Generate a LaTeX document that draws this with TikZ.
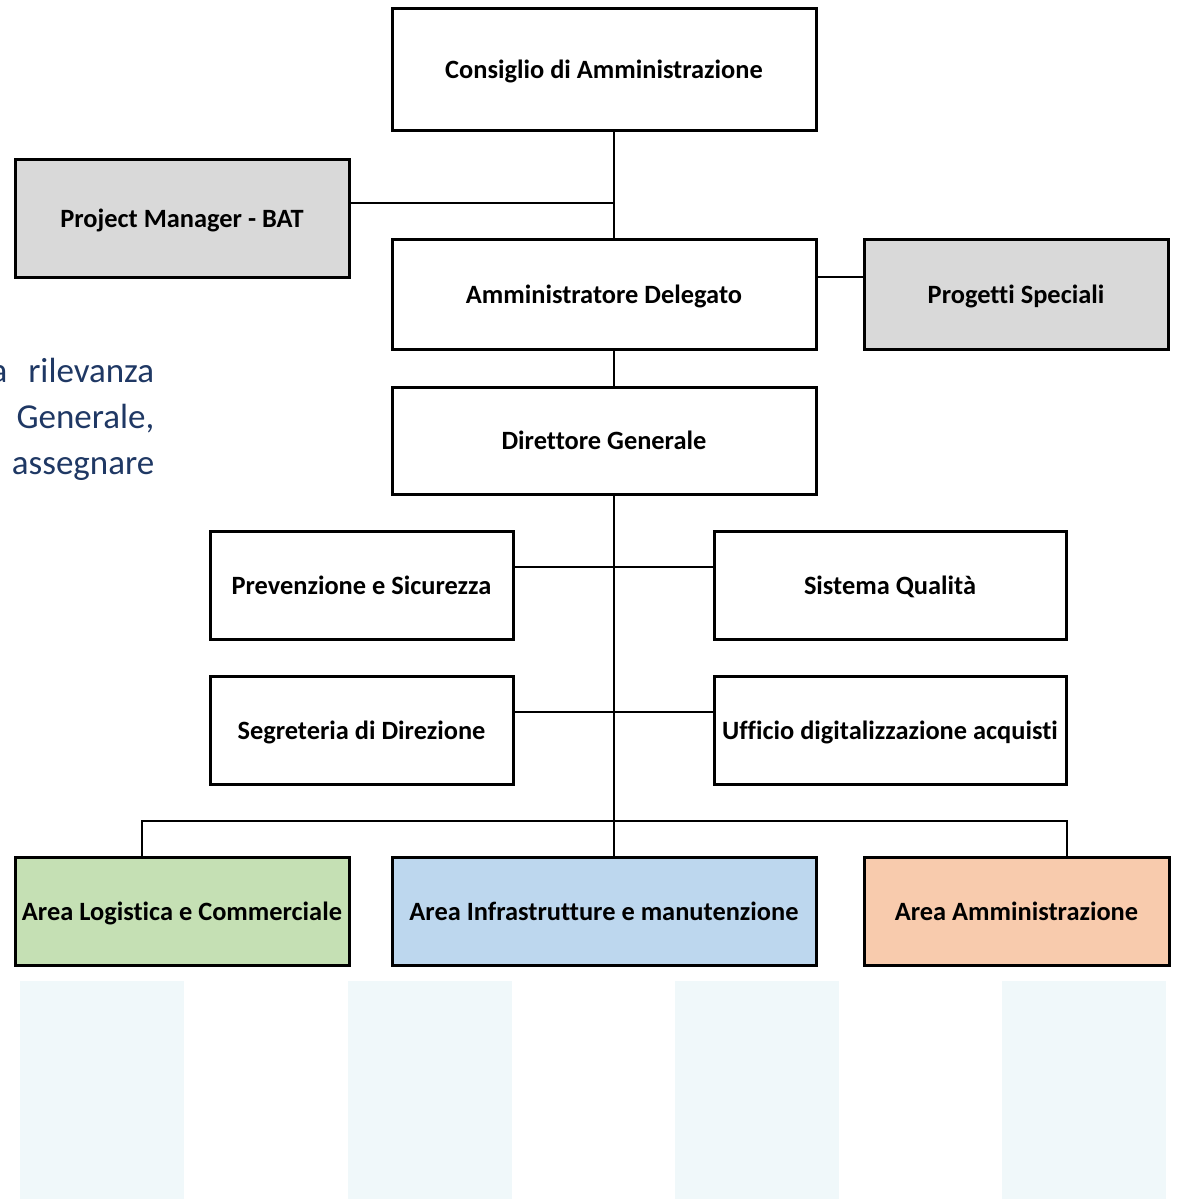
\documentclass[tikz,border=0pt]{standalone}
\usepackage{fontspec}
\setmainfont{Carlito}[Ligatures=NoCommon]
\usetikzlibrary{positioning}
\definecolor{grigio}{HTML}{D9D9D9}
\definecolor{verde}{HTML}{C5E0B4}
\definecolor{azzurro}{HTML}{BDD7EE}
\definecolor{arancio}{HTML}{F8CBAD}
\definecolor{velo}{HTML}{F0F8FA}
\definecolor{testoblu}{HTML}{1F3864}

\begin{document}
\begin{tikzpicture}[x=0.5pt,y=-0.5pt,line width=0.75pt,%
        ufficio/.style={draw,line width=1.5pt,inner sep=0pt,text depth=0pt,
          font=\bfseries\fontsize{13.2}{15}\selectfont},
        largo/.style={minimum width=212pt},
        testo/.style={anchor=base east,text=testoblu,inner sep=0pt,
          font=\fontsize{17.5}{21}\selectfont}]

      \useasboundingbox (0,0) rectangle (1178,1199);

      % riquadri chiari in fondo
      \foreach \x in {20,348,675,1002}
        \fill[velo] (\x,981) rectangle ++(164,218);

      % testo tagliato a sinistra
      \node[testo] (r1) at (155,382) {a\hspace{0.6em}rilevanza};
      \node[testo] (r2) at (155,428) {Generale,};
      \node[testo] (r3) at (155,474) {assegnare};

      \node[ufficio,largo,minimum height=61pt]   (CdA) at (604,69)    {Consiglio di Amministrazione};
      \node[ufficio,fill=grigio,minimum width=167pt,minimum height=59pt] (PM) at (182,218) {Project Manager - BAT};
      \node[ufficio,largo,minimum height=55pt]   (AD)  at (604,294)   {Amministratore Delegato};
      \node[ufficio,fill=grigio,minimum width=152pt,minimum height=55pt] (PS) at (1016,294) {Progetti Speciali};
      \node[ufficio,largo,minimum height=53.5pt] (DG)  at (604,440.5) {Direttore Generale};

      \node[ufficio,minimum width=151.5pt,minimum height=54pt] (PeS) at (361.5,585) {Prevenzione e Sicurezza};
      \node[ufficio,minimum width=176pt,minimum height=54pt]   (SQ)  at (890,585)   {Sistema Qualità};
      \node[ufficio,minimum width=151.5pt,minimum height=54pt] (SdD) at (361.5,730) {Segreteria di Direzione};
      \node[ufficio,minimum width=176pt,minimum height=54pt]   (UDA) at (890,730)   {Ufficio digitalizzazione acquisti};

      \node[ufficio,fill=verde,minimum width=167pt,minimum height=54pt]     (ALC) at (182,911)    {Area Logistica e Commerciale};
      \node[ufficio,fill=azzurro,largo,minimum height=54pt]                 (AIM) at (604,911)    {Area Infrastrutture e manutenzione};
      \node[ufficio,fill=arancio,minimum width=152.5pt,minimum height=54pt] (AA)  at (1016.5,911) {Area Amministrazione};

      \coordinate (t)  at (614,0);
      \coordinate (j1) at (614,203);
      \coordinate (j2) at (840,277);
      \coordinate (j3) at (614,567);
      \coordinate (j4) at (614,712);
      \coordinate (bl) at (142,821);
      \coordinate (br) at (1067,821);

      \draw (CdA.south -| t) -- (AD.north -| t);
      \draw (j1 -| PM.east) -- (j1);
      \draw (j2 -| AD.east) -- (j2 -| PS.west);
      \draw (AD.south -| t) -- (DG.north -| t);
      \draw (DG.south -| t) -- (AIM.north -| t);
      \draw (j3 -| PeS.east) -- (j3 -| SQ.west);
      \draw (j4 -| SdD.east) -- (j4 -| UDA.west);
      \draw (ALC.north -| bl) -- (bl) -- (br) -- (AA.north -| br);

    \end{tikzpicture}
\end{document}
